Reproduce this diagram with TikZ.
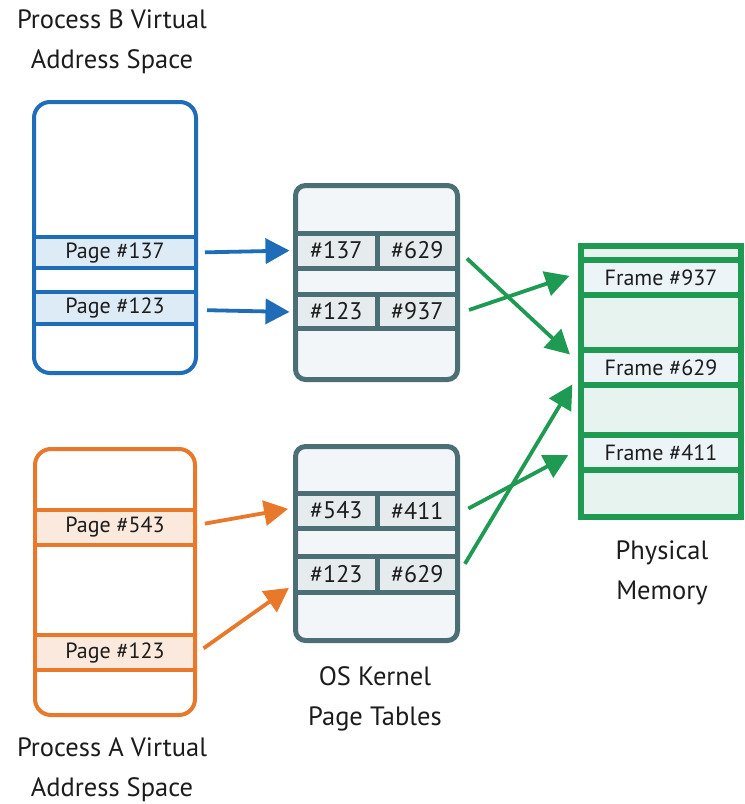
\documentclass[tikz,border=0pt]{standalone}
\usepackage{fontspec}
\setmainfont{PT Sans}
\usetikzlibrary{arrows.meta}
\definecolor{cblue}{HTML}{1F6DB8}
\definecolor{cblueL}{HTML}{DDEBF7}
\definecolor{corange}{HTML}{E8782A}
\definecolor{corangeL}{HTML}{FCE9DD}
\definecolor{cslate}{HTML}{4C6F76}
\definecolor{cslateF}{HTML}{F3F6F8}
\definecolor{cslateC}{HTML}{E6ECEE}
\definecolor{cgreen}{HTML}{1E9A52}
\definecolor{cgreenF}{HTML}{E6F3EE}
\definecolor{cgreenB}{HTML}{ECF4F8}
\definecolor{ctext}{HTML}{1C1C1C}
\tikzset{
  box/.style={draw, rounded corners=16pt, inner sep=0pt, minimum width=#1},
  band/.style={draw, inner sep=0pt, minimum width=162pt, text=ctext, font=\fontsize{22}{24}\selectfont},
  cell/.style={draw=cslate, fill=cslateC, line width=5pt, inner sep=0pt, text=ctext, font=\fontsize{24}{24}\selectfont},
  title/.style={align=center, text=ctext, font=\fontsize{26.5}{40}\selectfont},
  arr/.style={line width=3.8pt, -{Triangle[length=24pt,width=25pt]}},
}
\begin{document}
\begin{tikzpicture}[x=1pt,y=-1pt]
\useasboundingbox[fill=white] (0,0) rectangle (745,804);

% Process B
\node[box=162pt, draw=cblue, line width=4pt, fill=white, minimum height=271pt] (pB) at (115,237.5) {};
\node[band, draw=cblue, fill=cblueL, line width=4pt, minimum width=162pt, minimum height=31pt] (pB137) at (115,252.5) {Page \#137};
\node[band, draw=cblue, fill=cblueL, line width=4pt, minimum width=162pt, minimum height=32pt] (pB123) at (115,308) {Page \#123};

% Process A
\node[box=160pt, draw=corange, line width=4pt, fill=white, minimum height=266pt] (pA) at (115,582) {};
\node[band, draw=corange, fill=corangeL, line width=4pt, minimum width=160pt, minimum height=35pt] (pA543) at (115,527.5) {Page \#543};
\node[band, draw=corange, fill=corangeL, line width=4pt, minimum width=160pt, minimum height=35pt] (pA123) at (115,652.5) {Page \#123};

% Page table B
\node[draw=cslate, fill=cslateF, line width=5pt, rounded corners=10pt, inner sep=0pt, minimum width=162pt, minimum height=194pt] (tB) at (376.5,282.5) {};
\node[cell, minimum width=81.5pt, minimum height=35pt] (tB137k) at (336.25,250.5) {\#137};
\node[cell, minimum width=80.5pt, minimum height=35pt] (tB137v) at (417.25,250.5) {\#629};
\node[cell, minimum width=81.5pt, minimum height=34pt] (tB123k) at (336.25,311) {\#123};
\node[cell, minimum width=80.5pt, minimum height=34pt] (tB123v) at (417.25,311) {\#937};

% Page table A
\node[draw=cslate, fill=cslateF, line width=5pt, rounded corners=10pt, inner sep=0pt, minimum width=162pt, minimum height=194pt] (tA) at (376.5,543.5) {};
\node[cell, minimum width=81.5pt, minimum height=35pt] (tA543k) at (336.25,510.5) {\#543};
\node[cell, minimum width=80.5pt, minimum height=35pt] (tA543v) at (417.25,510.5) {\#411};
\node[cell, minimum width=81.5pt, minimum height=36pt] (tA123k) at (336.25,574) {\#123};
\node[cell, minimum width=80.5pt, minimum height=36pt] (tA123v) at (417.25,574) {\#629};

% Physical memory
\node[draw=cgreen, fill=cgreenF, line width=6pt, inner sep=0pt, minimum width=160pt, minimum height=271pt] (mem) at (661,381.5) {};
\node[band, draw=cgreen, fill=cgreenB, line width=6pt, minimum width=160pt, minimum height=35pt] (f937) at (661,277.5) {Frame \#937};
\node[band, draw=cgreen, fill=cgreenB, line width=6pt, minimum width=160pt, minimum height=35pt] (f629) at (661,367.5) {Frame \#629};
\node[band, draw=cgreen, fill=cgreenB, line width=6pt, minimum width=160pt, minimum height=35pt] (f411) at (661,452.5) {Frame \#411};

% Titles
\node[title] (lblB) at (112,42) {Process B Virtual\\Address Space};
\node[title] (lblA) at (112,770) {Process A Virtual\\Address Space};
\node[title] (lblK) at (375,699) {OS Kernel\\Page Tables};
\node[title] (lblM) at (662,572.5) {Physical\\Memory};

% Arrows
\draw[arr, cblue, shorten <=7pt, shorten >=3.5pt] (pB137.east) -- (tB137k.west);
\draw[arr, cblue, shorten <=9pt, shorten >=3.5pt] ([yshift=-2pt]pB123.east) -- ([yshift=-1pt]tB123k.west);
\draw[arr, corange, shorten <=8pt, shorten >=5pt] ([yshift=2.5pt]pA543.east) -- ([yshift=2.5pt]tA543k.west);
\draw[arr, corange, shorten <=8pt, shorten >=5pt] ([yshift=-0.5pt]pA123.east) -- ([yshift=-11pt]tA123k.west);
\draw[arr, cgreen, shorten <=9.5pt, shorten >=11pt] ([yshift=-1.5pt]tB137v.east) -- ([yshift=5.5pt]f629.west);
\draw[arr, cgreen, shorten <=9.5pt, shorten >=9pt] ([yshift=-2pt]tB123v.east) -- ([yshift=4.5pt]f937.west);
\draw[arr, cgreen, shorten <=9.5pt, shorten >=11pt] ([yshift=-2.5pt]tA543v.east) -- ([yshift=2.5pt]f411.west);
\draw[arr, cgreen, shorten <=9.5pt, shorten >=11pt] ([yshift=2pt]tA123v.east) -- ([yshift=-7.5pt]f629.west);
\end{tikzpicture}
\end{document}
